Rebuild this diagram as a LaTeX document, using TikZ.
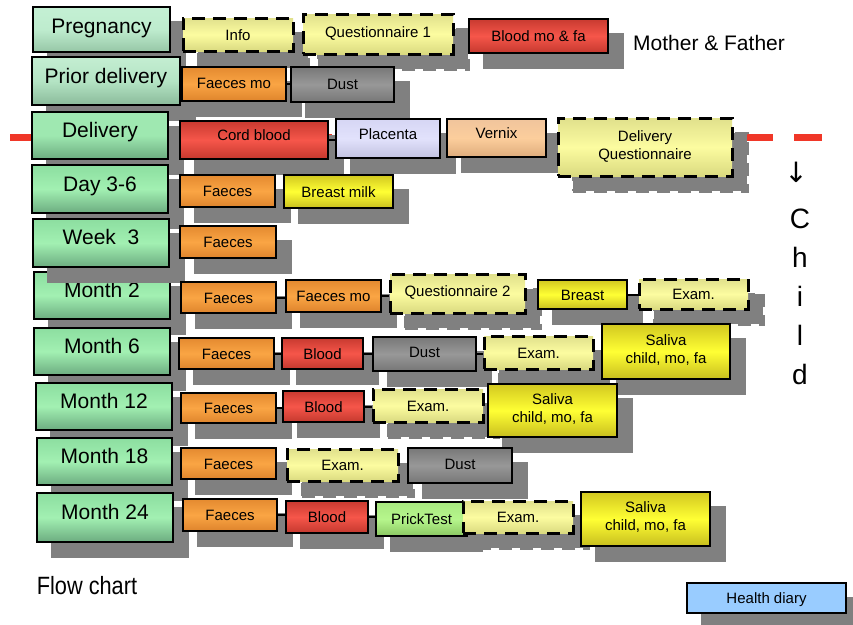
\documentclass[tikz,border=0pt]{standalone}
\usepackage{fontspec}
\setmainfont{Liberation Sans}
\newfontfamily\arrowfont{DejaVu Sans}
\definecolor{shadowgray}{RGB}{128,128,128}
\definecolor{redline}{RGB}{240,55,40}
\definecolor{gTop}{RGB}{140,222,160}\definecolor{gMid}{RGB}{162,240,178}\definecolor{gBot}{RGB}{108,172,128}
\definecolor{pTop}{RGB}{196,240,212}\definecolor{pMid}{RGB}{190,236,206}\definecolor{pBot}{RGB}{150,198,166}
\definecolor{qTop}{RGB}{196,238,210}\definecolor{qMid}{RGB}{180,228,196}\definecolor{qBot}{RGB}{138,186,154}
\definecolor{dTop}{RGB}{160,232,178}\definecolor{dMid}{RGB}{158,232,176}\definecolor{dBot}{RGB}{108,172,128}
\definecolor{oTop}{RGB}{228,138,48}\definecolor{oMid}{RGB}{250,165,68}\definecolor{oBot}{RGB}{222,132,44}
\definecolor{rTop}{RGB}{200,58,48}\definecolor{rMid}{RGB}{246,86,74}\definecolor{rBot}{RGB}{196,56,46}
\definecolor{lyTop}{RGB}{224,224,140}\definecolor{lyMid}{RGB}{252,252,160}\definecolor{lyBot}{RGB}{218,218,128}
\definecolor{yTop}{RGB}{210,200,32}\definecolor{yMid}{RGB}{255,255,52}\definecolor{yBot}{RGB}{200,190,30}
\definecolor{sTop}{RGB}{120,120,120}\definecolor{sMid}{RGB}{152,152,152}\definecolor{sBot}{RGB}{118,118,118}
\definecolor{lvTop}{RGB}{214,214,244}\definecolor{lvMid}{RGB}{226,226,252}\definecolor{lvBot}{RGB}{194,194,224}
\definecolor{vTop}{RGB}{240,196,156}\definecolor{vMid}{RGB}{252,206,156}\definecolor{vBot}{RGB}{222,172,124}
\definecolor{ptTop}{RGB}{168,232,128}\definecolor{ptMid}{RGB}{182,246,140}\definecolor{ptBot}{RGB}{138,198,98}
\definecolor{hdBlue}{RGB}{153,204,255}
\newcommand\mkbox[6][]{\node[#1, minimum width={(#4-#2)*1pt}, minimum height={(#5-#3)*1pt}] (#6) at ({(#2+#4)/2},{(#3+#5)/2})}
\tikzset{
  box/.style={draw=black, line width=1.8pt, inner sep=0pt, text height=11pt, text depth=0pt,
    font=\fontsize{15}{18}\selectfont,
    preaction={fill=shadowgray, draw=shadowgray, transform canvas={shift={(15pt,-15pt)}}}},
  dbox/.style={box, line width=3pt, dash pattern=on 13pt off 8pt, lyellow},
  lbl/.style={box, font=\fontsize{21}{24}\selectfont, text height=15pt, text depth=12pt},
  raise/.style={text depth=#1},
  two/.style={align=center, text height=29pt, text depth=#1},
  two/.default=6pt,
  greenA/.style={top color=gTop, bottom color=gBot, middle color=gMid},
  greenP/.style={top color=pTop, bottom color=pBot, middle color=pMid},
  greenQ/.style={top color=qTop, bottom color=qBot, middle color=qMid},
  greenD/.style={top color=dTop, bottom color=dBot, middle color=dMid},
  orange/.style={top color=oTop, bottom color=oBot, middle color=oMid},
  redb/.style={top color=rTop, bottom color=rBot, middle color=rMid},
  lyellow/.style={top color=lyTop, bottom color=lyBot, middle color=lyMid},
  yellowb/.style={top color=yTop, bottom color=yBot, middle color=yMid},
  grayb/.style={top color=sTop, bottom color=sBot, middle color=sMid},
  lavender/.style={top color=lvTop, bottom color=lvBot, middle color=lvMid},
  peach/.style={top color=vTop, bottom color=vBot, middle color=vMid},
  prick/.style={top color=ptTop, bottom color=ptBot, middle color=ptMid},
  conn/.style={draw=black, line width=2pt},
}
\begin{document}
\begin{tikzpicture}[x=1pt,y=-1pt]
\useasboundingbox (0,0) rectangle (853,624);
% red dashed separator
\coordinate (rl) at (10,137);
\coordinate (rr) at (827,137);
\draw[redline, line width=7pt, dash pattern=on 28pt off 21pt] (rl) -- (rr);

% time labels
\mkbox[lbl,greenP,raise=7pt]{33}{7}{170}{52}{Lpreg} {Pregnancy};
\mkbox[lbl,greenQ,raise=10pt]{32}{57}{180}{105}{Lprior} {Prior delivery};
\mkbox[lbl,greenD]{32}{112}{168}{159}{Ldel} {Delivery};
\mkbox[lbl,greenA,raise=10pt]{32}{165}{168}{213}{Lday} {Day 3-6};
\mkbox[lbl,greenA]{34}{272}{170}{319}{Lm2} {Month 2};
\mkbox[lbl,greenA]{33}{219}{169}{267}{Lw3} {Week\ \ 3};
\mkbox[lbl,greenA]{34}{328}{170}{375}{Lm6} {Month 6};
\mkbox[lbl,greenA]{36}{383}{172}{430}{Lm12} {Month 12};
\mkbox[lbl,greenA]{37}{438}{172}{485}{Lm18} {Month 18};
\mkbox[lbl,greenA]{37}{493}{173}{542}{Lm24} {Month 24};

% pregnancy
\mkbox[dbox]{183}{18}{293}{51}{info} {Info};
\mkbox[dbox,raise=4pt]{303}{14}{453}{54}{q1} {Questionnaire 1};
\mkbox[box,redb]{469}{19}{608}{53}{bmf} {Blood mo \& fa};
% prior delivery
\mkbox[box,orange,raise=2pt]{182}{67}{286}{101}{fmo1} {Faeces mo};
\mkbox[box,grayb,raise=2pt]{291}{67}{394}{102}{dust1} {Dust};
% delivery
\mkbox[box,redb,raise=10pt]{180}{121}{328}{159}{cord} {Cord blood};
\mkbox[box,lavender,raise=10pt]{336}{119}{440}{158}{plac} {Placenta};
\mkbox[box,peach,raise=10pt]{447}{119}{546}{157}{vern} {Vernix};
\mkbox[dbox,two=4pt]{558}{118}{732}{176}{dq} {Delivery\\Questionnaire};
% day 3-6
\mkbox[box,orange]{180}{175}{275}{207}{f1} {Faeces};
\mkbox[box,yellowb]{284}{175}{393}{208}{bm} {Breast milk};
% week 3
\mkbox[box,orange]{180}{226}{276}{258}{f2} {Faeces};
% month 2
\mkbox[box,orange]{181}{282}{276}{313}{f3} {Faeces};
\mkbox[box,orange]{286}{280}{381}{312}{fmo2} {Faeces mo};
\mkbox[dbox,raise=5pt]{390}{274}{525}{313}{q2} {Questionnaire 2};
\mkbox[box,yellowb]{538}{280}{627}{309}{br} {Breast};
\mkbox[dbox]{639}{279}{748}{309}{ex1} {Exam.};
% month 6
\mkbox[box,orange]{179}{338}{274}{369}{f4} {Faeces};
\mkbox[box,redb]{282}{338}{363}{369}{b1} {Blood};
\mkbox[box,grayb,raise=4pt]{373}{337}{476}{371}{dust2} {Dust};
\mkbox[dbox]{484}{336}{593}{369}{ex2} {Exam.};
\mkbox[box,yellowb,two]{602}{324}{730}{379}{sal1} {Saliva\\child, mo, fa};
% month 12
\mkbox[box,orange]{181}{393}{276}{423}{f5} {Faeces};
\mkbox[box,redb]{283}{391}{364}{422}{b2} {Blood};
\mkbox[dbox]{373}{389}{483}{422}{ex3} {Exam.};
\mkbox[box,yellowb,two]{488}{384}{617}{437}{sal2} {Saliva\\child, mo, fa};
% month 18
\mkbox[box,orange]{181}{448}{276}{479}{f6} {Faeces};
\mkbox[dbox]{287}{449}{398}{481}{ex4} {Exam.};
\mkbox[box,grayb,raise=4pt]{408}{448}{512}{483}{dust3} {Dust};
% month 24
\mkbox[box,orange]{183}{499}{277}{531}{f7} {Faeces};
\mkbox[box,redb]{286}{501}{368}{533}{b3} {Blood};
\mkbox[box,prick]{376}{502}{467}{536}{pt} {PrickTest};
\mkbox[dbox]{463}{501}{573}{533}{ex5} {Exam.};
\mkbox[box,yellowb,two]{581}{492}{710}{546}{sal3} {Saliva\\child, mo, fa};
% health diary
\mkbox[box,fill=hdBlue]{687}{583}{846}{613}{hd} {Health diary};

% connectors
\foreach \a/\b in {fmo1/dust1, cord/plac, f3/fmo2, fmo2/q2, br/ex1, f4/b1, b1/dust2, dust2/ex2, f5/b2, b2/ex3, f7/b3, b3/pt}
  \draw[conn] (\a.east) -- (\a.east -| \b.west);

% free texts
\node[font=\fontsize{21}{24}\selectfont, inner sep=0pt] (mf) at (709,43) {Mother \& Father};
\node[font=\arrowfont\fontsize{28}{28}\selectfont, inner sep=0pt] (arr) at (796,172) {↓};
\node[font=\fontsize{28}{39}\selectfont, align=center, inner sep=0pt] (child) at (800,297) {C\\h\\i\\l\\d};
\node[font=\fontsize{25}{28}\selectfont, inner sep=0pt] (fc) at (87,586) {\scalebox{0.87}[1]{Flow chart}};
\end{tikzpicture}
\end{document}
